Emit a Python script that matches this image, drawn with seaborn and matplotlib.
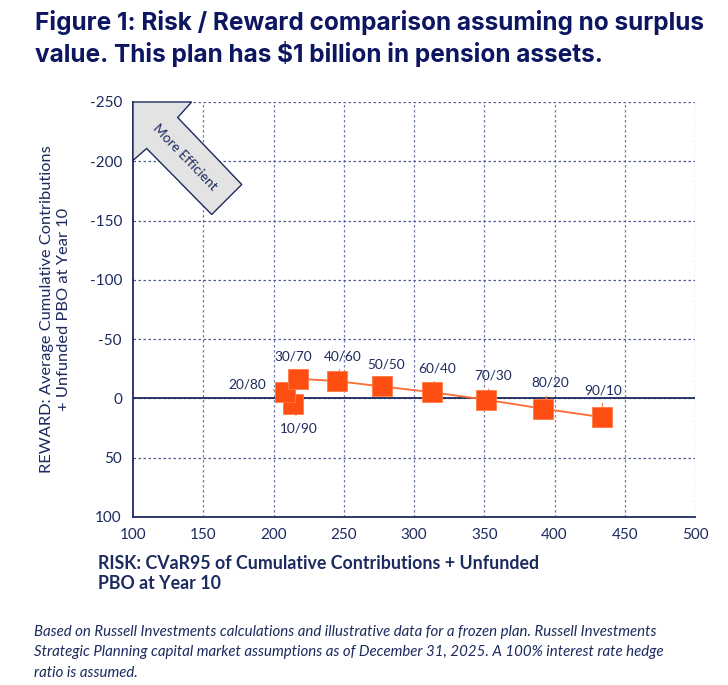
import matplotlib
matplotlib.use("Agg")
import matplotlib.pyplot as plt
from matplotlib.patches import Polygon
import seaborn as sns
import pandas as pd

# mixes (equity / fixed income), risk and reward
mixes = ["10/90", "20/80", "30/70", "40/60", "50/50", "60/40", "70/30", "80/20", "90/10"]
risk = [214, 208, 217.5, 245, 277, 312.5, 351, 392, 433.5]
reward = [4.5, -5.3, -16.6, -14.6, -10.1, -5.3, 1.1, 8.7, 15.8]

# label offsets in pixels from each marker
lab_dx = [6, -38, -5, 6, 4, 6, 7, 7, 2]
lab_dy = [-25, 8, 22, 25, 22, 24, 24, 26, 27]

xticks = [100, 150, 200, 250, 300, 350, 400, 450, 500]
yticks = [-250, -200, -150, -100, -50, 0, 50, 100]

df = pd.DataFrame({"mix": mixes, "risk": risk, "reward": reward})

navy = "#1c2a5e"
title_col = "#0d1660"
orange = "#ff4e12"

sns.set_style("white")
plt.rcParams["font.family"] = ["Lato", "DejaVu Sans"]
plt.rcParams["axes.unicode_minus"] = False

fig = plt.figure(figsize=(7.28, 6.85), dpi=100)
ax = fig.add_axes([0.1827, 0.2453, 0.772, 0.6058])

# grid
for x in xticks[1:]:
    ax.axvline(x, color="#6b7aa8", lw=0.9, ls=(0, (2, 2)), zorder=0)
for y in yticks[:-1]:
    ax.axhline(y, color="#4d5d8f", lw=0.9, ls=(0, (2, 2)), zorder=0)
ax.axhline(0, color=navy, lw=1.3, zorder=1)

sns.lineplot(data=df, x="risk", y="reward", sort=False, color="#ff6a30",
             lw=1.3, ax=ax, zorder=2)
sns.scatterplot(data=df, x="risk", y="reward", marker="s", s=190,
                color=orange, edgecolor="#ff7a45", linewidth=0.6, ax=ax, zorder=3)

for m, x, y, dx, dy in zip(mixes, risk, reward, lab_dx, lab_dy):
    ax.annotate(m, (x, y), xytext=(dx, dy), textcoords="offset pixels",
                ha="center", va="center", fontsize=9.8, color=navy, zorder=2.5,
                arrowprops=dict(arrowstyle="-", color="#ff7a45", lw=0.8,
                                shrinkA=3, shrinkB=0))

ax.set_xlim(100, 500)
ax.set_ylim(100, -250)
ax.set_xticks(xticks)
ax.set_yticks(yticks)
ax.tick_params(length=0, labelsize=11, labelcolor=navy, pad=8)

for s in ["top", "right"]:
    ax.spines[s].set_visible(False)
for s in ["left", "bottom"]:
    ax.spines[s].set_color(navy)
    ax.spines[s].set_linewidth(1.3)

ax.set_xlabel("")
ax.set_ylabel("REWARD: Average Cumulative Contributions\n+ Unfunded PBO at Year 10",
              fontsize=11.8, color=navy, labelpad=13, linespacing=1.3)

# "More Efficient" arrow pointing to upper-left corner
arrow_pts = [(100, -250), (141.7, -250), (131.8, -236.9), (177.4, -180.4),
             (156.0, -155.1), (109.7, -210.8), (100, -200.7)]
ax.add_patch(Polygon(arrow_pts, closed=True, facecolor="#e3e3e3",
                     edgecolor=navy, lw=1.0, zorder=4, clip_on=False))
ax.text(136.8, -203.2, "More Efficient", rotation=-46, ha="center", va="center",
        fontsize=9.8, color=navy, zorder=5, rotation_mode="anchor")

fig.text(0.048, 0.985, "Figure 1: Risk / Reward comparison assuming no surplus\n"
         "value. This plan has $1 billion in pension assets.",
         ha="left", va="top", fontsize=17.6, fontweight="bold", color=title_col,
         family=["Inter", "DejaVu Sans"], linespacing=1.25)

fig.text(0.135, 0.19, "RISK: CVaR95 of Cumulative Contributions + Unfunded\nPBO at Year 10",
         ha="left", va="top", fontsize=12.8, fontweight="bold", color=navy, linespacing=1.2)

fig.text(0.047, 0.088, "Based on Russell Investments calculations and illustrative data for a frozen plan. Russell Investments\n"
         "Strategic Planning capital market assumptions as of December 31, 2025. A 100% interest rate hedge\n"
         "ratio is assumed.",
         ha="left", va="top", fontsize=10.8, style="italic", color=navy, linespacing=1.6)

fig.savefig("out.png", dpi=100)
